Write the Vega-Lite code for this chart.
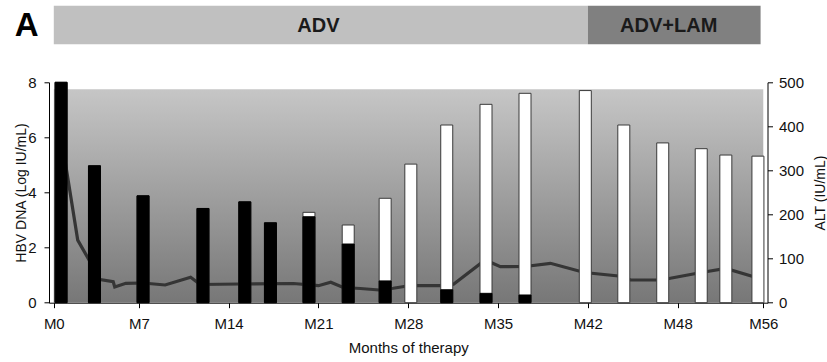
{
  "$schema": "https://vega.github.io/schema/vega-lite/v6.json",
  "autosize": {"type": "none"},
  "padding": {"left": 49, "top": 82.3, "right": 59.5, "bottom": 59.3},
  "width": 718.5,
  "height": 220.4,
  "config": {
    "view": {"stroke": null},
    "font": "Liberation Sans",
    "axis": {
      "labelFont": "Liberation Sans", "titleFont": "Liberation Sans",
      "labelFontSize": 15, "titleFontSize": 14, "titleFontWeight": "normal",
      "labelColor": "#111", "titleColor": "#111",
      "domainColor": "#000", "tickColor": "#000", "grid": false
    }
  },
  "datasets": {
    "bars": [
      {"month": 0.6, "total": 8.0, "wild": 8.0},
      {"month": 3.35, "total": 4.97, "wild": 4.97},
      {"month": 7.33, "total": 3.88, "wild": 3.88},
      {"month": 12.0, "total": 3.42, "wild": 3.42},
      {"month": 15.26, "total": 3.66, "wild": 3.66},
      {"month": 17.26, "total": 2.9, "wild": 2.9},
      {"month": 20.26, "total": 3.28, "wild": 3.12},
      {"month": 23.32, "total": 2.82, "wild": 2.13},
      {"month": 26.2, "total": 3.79, "wild": 0.79},
      {"month": 28.2, "total": 5.03, "wild": 0},
      {"month": 31.0, "total": 6.45, "wild": 0.47},
      {"month": 34.06, "total": 7.2, "wild": 0.34},
      {"month": 37.1, "total": 7.6, "wild": 0.28},
      {"month": 41.8, "total": 7.7, "wild": 0},
      {"month": 44.4, "total": 6.45, "wild": 0},
      {"month": 47.0, "total": 5.8, "wild": 0},
      {"month": 50.2, "total": 5.59, "wild": 0},
      {"month": 52.5, "total": 5.36, "wild": 0},
      {"month": 55.5, "total": 5.32, "wild": 0}
    ],
    "alt": [
      {"month": 0.6, "alt": 378},
      {"month": 1.97, "alt": 142},
      {"month": 3.82, "alt": 52.6},
      {"month": 4.89, "alt": 47.6},
      {"month": 5.02, "alt": 35.6},
      {"month": 5.93, "alt": 44},
      {"month": 7.33, "alt": 44.7},
      {"month": 9.05, "alt": 40.2},
      {"month": 11.04, "alt": 57.6},
      {"month": 11.78, "alt": 41.3},
      {"month": 14.9, "alt": 42.4},
      {"month": 19.05, "alt": 43.6},
      {"month": 21.0, "alt": 38.6},
      {"month": 21.96, "alt": 46.3},
      {"month": 22.93, "alt": 34.5},
      {"month": 24.26, "alt": 32.2},
      {"month": 25.74, "alt": 28.8},
      {"month": 26.83, "alt": 32.7},
      {"month": 28.16, "alt": 39.0},
      {"month": 30.5, "alt": 38.6},
      {"month": 31.53, "alt": 41.7},
      {"month": 34.0, "alt": 97},
      {"month": 35.18, "alt": 81.7},
      {"month": 37.1, "alt": 82.1},
      {"month": 39.08, "alt": 89.4},
      {"month": 41.73, "alt": 68.5},
      {"month": 44.37, "alt": 59.4},
      {"month": 44.84, "alt": 51.5},
      {"month": 47.0, "alt": 51.5},
      {"month": 47.51, "alt": 55.4},
      {"month": 50.2, "alt": 68.5},
      {"month": 52.5, "alt": 77.6},
      {"month": 55.5, "alt": 56}
    ],
    "phases": [
      {"phase": "ADV", "start": 0, "end": 42, "mid": 21},
      {"phase": "ADV+LAM", "start": 42, "end": 55.75, "mid": 47.4}
    ]
  },
  "resolve": {"scale": {"y": "independent"}},
  "layer": [
    {
      "data": {"values": [{}]},
      "mark": {"type": "rect", "color": {"gradient": "linear", "x1": 0, "y1": 0, "x2": 0, "y2": 1, "stops": [{"offset": 0, "color": "#c6c6c6"}, {"offset": 1, "color": "#777777"}]}},
      "encoding": {
        "x": {"datum": 0, "type": "quantitative",
              "scale": {"type": "linear", "domain": [0, 7, 14, 21, 28, 35, 42, 48, 56], "range": [0, 89.8125, 179.625, 269.4375, 359.25, 449.0625, 538.875, 628.6875, 718.5], "nice": false, "zero": false},
              "axis": {"values": [0, 7, 14, 21, 28, 35, 42, 48, 56], "labelExpr": "'M' + datum.value", "title": "Months of therapy", "titleFontSize": 15, "tickSize": 5, "labelPadding": 9, "titlePadding": 9, "labelFlush": false, "labelOverlap": false}},
        "x2": {"datum": 56},
        "y": {"datum": 0, "type": "quantitative", "scale": {"domain": [0, 8], "nice": false},
              "axis": {"orient": "left", "values": [0, 2, 4, 6, 8], "title": "HBV DNA (Log IU/mL)", "tickSize": 5, "labelPadding": 8, "titlePadding": -1}},
        "y2": {"datum": 7.75}
      }
    },
    {
      "data": {"name": "alt"},
      "mark": {"type": "line", "color": "#353535", "strokeWidth": 3.2},
      "encoding": {
        "x": {"field": "month", "type": "quantitative",
              "scale": {"type": "linear", "domain": [0, 7, 14, 21, 28, 35, 42, 48, 56], "range": [0, 89.8125, 179.625, 269.4375, 359.25, 449.0625, 538.875, 628.6875, 718.5], "nice": false, "zero": false},
              "axis": {"values": [0, 7, 14, 21, 28, 35, 42, 48, 56], "labelExpr": "'M' + datum.value", "title": "Months of therapy", "titleFontSize": 15, "tickSize": 5, "labelPadding": 9, "titlePadding": 9, "labelFlush": false, "labelOverlap": false}},
        "y": {"field": "alt", "type": "quantitative", "scale": {"domain": [0, 500], "nice": false},
              "axis": {"orient": "right", "values": [0, 100, 200, 300, 400, 500], "title": "ALT (IU/mL)", "titleAngle": 270, "titleBaseline": "top", "tickSize": 5, "labelPadding": 6, "titlePadding": 10}}
      }
    },
    {
      "data": {"name": "bars"},
      "mark": {"type": "bar", "size": 12, "fill": "#ffffff", "stroke": "#3a3a3a", "strokeWidth": 1},
      "encoding": {
        "x": {"field": "month", "type": "quantitative",
              "scale": {"type": "linear", "domain": [0, 7, 14, 21, 28, 35, 42, 48, 56], "range": [0, 89.8125, 179.625, 269.4375, 359.25, 449.0625, 538.875, 628.6875, 718.5], "nice": false, "zero": false},
              "axis": {"values": [0, 7, 14, 21, 28, 35, 42, 48, 56], "labelExpr": "'M' + datum.value", "title": "Months of therapy", "titleFontSize": 15, "tickSize": 5, "labelPadding": 9, "titlePadding": 9, "labelFlush": false, "labelOverlap": false}},
        "y": {"field": "total", "type": "quantitative", "scale": {"domain": [0, 8], "nice": false}, "axis": null}
      }
    },
    {
      "data": {"name": "bars"},
      "transform": [{"filter": "datum.wild > 0"}],
      "mark": {"type": "bar", "size": 12, "fill": "#000000", "stroke": "#000000", "strokeWidth": 1},
      "encoding": {
        "x": {"field": "month", "type": "quantitative",
              "scale": {"type": "linear", "domain": [0, 7, 14, 21, 28, 35, 42, 48, 56], "range": [0, 89.8125, 179.625, 269.4375, 359.25, 449.0625, 538.875, 628.6875, 718.5], "nice": false, "zero": false},
              "axis": {"values": [0, 7, 14, 21, 28, 35, 42, 48, 56], "labelExpr": "'M' + datum.value", "title": "Months of therapy", "titleFontSize": 15, "tickSize": 5, "labelPadding": 9, "titlePadding": 9, "labelFlush": false, "labelOverlap": false}},
        "y": {"field": "wild", "type": "quantitative", "scale": {"domain": [0, 8], "nice": false}, "axis": null}
      }
    },
    {
      "data": {"name": "phases"},
      "mark": {"type": "rect"},
      "encoding": {
        "x": {"field": "start", "type": "quantitative",
              "scale": {"type": "linear", "domain": [0, 7, 14, 21, 28, 35, 42, 48, 56], "range": [0, 89.8125, 179.625, 269.4375, 359.25, 449.0625, 538.875, 628.6875, 718.5], "nice": false, "zero": false},
              "axis": {"values": [0, 7, 14, 21, 28, 35, 42, 48, 56], "labelExpr": "'M' + datum.value", "title": "Months of therapy", "titleFontSize": 15, "tickSize": 5, "labelPadding": 9, "titlePadding": 9, "labelFlush": false, "labelOverlap": false}},
        "x2": {"field": "end"},
        "y": {"datum": 1.1724, "type": "quantitative", "scale": {"domain": [0, 1], "nice": false, "zero": false}, "axis": null},
        "y2": {"datum": 1.3475},
        "color": {"field": "phase", "type": "nominal", "scale": {"domain": ["ADV", "ADV+LAM"], "range": ["#c0c0c0", "#808080"]}, "legend": null}
      }
    },
    {
      "data": {"name": "phases"},
      "mark": {"type": "text", "fontSize": 20, "fontWeight": "bold", "color": "#1a1a1a", "font": "Liberation Sans", "baseline": "middle"},
      "encoding": {
        "x": {"field": "mid", "type": "quantitative",
              "scale": {"type": "linear", "domain": [0, 7, 14, 21, 28, 35, 42, 48, 56], "range": [0, 89.8125, 179.625, 269.4375, 359.25, 449.0625, 538.875, 628.6875, 718.5], "nice": false, "zero": false},
              "axis": {"values": [0, 7, 14, 21, 28, 35, 42, 48, 56], "labelExpr": "'M' + datum.value", "title": "Months of therapy", "titleFontSize": 15, "tickSize": 5, "labelPadding": 9, "titlePadding": 9, "labelFlush": false, "labelOverlap": false}},
        "y": {"datum": 1.2564, "type": "quantitative", "scale": {"domain": [0, 1], "nice": false, "zero": false}, "axis": null},
        "text": {"field": "phase"}
      }
    },
    {
      "data": {"values": [{"label": "A"}]},
      "mark": {"type": "text", "fontSize": 33, "fontWeight": "bold", "color": "#000000", "font": "Liberation Sans", "baseline": "middle", "align": "center"},
      "encoding": {
        "x": {"datum": -2.237, "type": "quantitative",
              "scale": {"type": "linear", "domain": [0, 7, 14, 21, 28, 35, 42, 48, 56], "range": [0, 89.8125, 179.625, 269.4375, 359.25, 449.0625, 538.875, 628.6875, 718.5], "nice": false, "zero": false},
              "axis": {"values": [0, 7, 14, 21, 28, 35, 42, 48, 56], "labelExpr": "'M' + datum.value", "title": "Months of therapy", "titleFontSize": 15, "tickSize": 5, "labelPadding": 9, "titlePadding": 9, "labelFlush": false, "labelOverlap": false}},
        "y": {"datum": 1.2564, "type": "quantitative", "scale": {"domain": [0, 1], "nice": false, "zero": false}, "axis": null},
        "text": {"field": "label"}
      }
    }
  ]
}
